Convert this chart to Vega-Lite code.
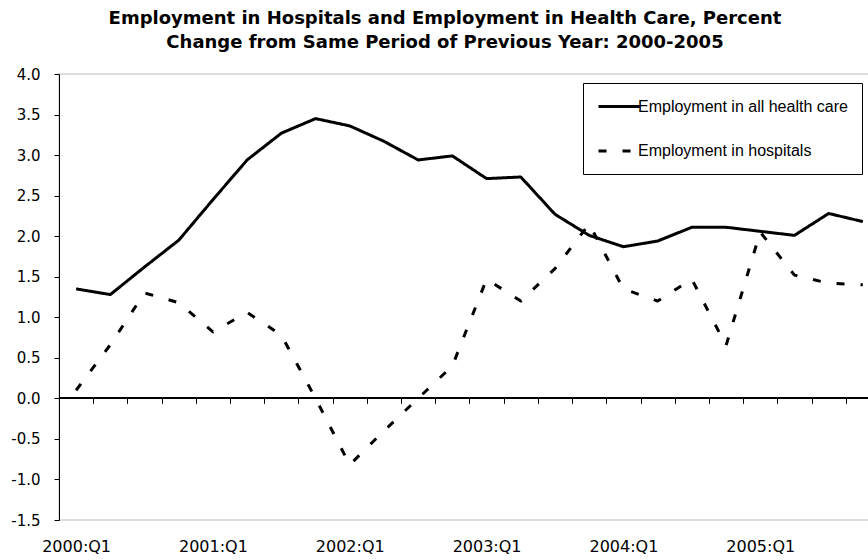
{
  "$schema": "https://vega.github.io/schema/vega-lite/v6.json",
  "width": 810,
  "height": 446,
  "autosize": "none",
  "padding": {"left": 59, "top": 74, "right": 0, "bottom": 40},
  "background": "white",
  "config": {"view": {"stroke": "#d4d4d4", "strokeWidth": 1.5}, "font": "DejaVu Sans"},
  "title": {
    "text": ["Employment in Hospitals and Employment in Health Care, Percent", "Change from Same Period of Previous Year: 2000-2005"],
    "font": "DejaVu Sans",
    "fontSize": 18,
    "fontWeight": "bold",
    "color": "black",
    "lineHeight": 24.5,
    "anchor": "middle",
    "frame": "group",
    "dx": -19,
    "baseline": "alphabetic",
    "offset": 0.7
  },
  "data": {"values": [
    {"i": 0, "quarter": "2000:Q1", "series": "Employment in all health care", "v": 1.35},
    {"i": 1, "quarter": "2000:Q2", "series": "Employment in all health care", "v": 1.28},
    {"i": 2, "quarter": "2000:Q3", "series": "Employment in all health care", "v": 1.62},
    {"i": 3, "quarter": "2000:Q4", "series": "Employment in all health care", "v": 1.95},
    {"i": 4, "quarter": "2001:Q1", "series": "Employment in all health care", "v": 2.45},
    {"i": 5, "quarter": "2001:Q2", "series": "Employment in all health care", "v": 2.94},
    {"i": 6, "quarter": "2001:Q3", "series": "Employment in all health care", "v": 3.27},
    {"i": 7, "quarter": "2001:Q4", "series": "Employment in all health care", "v": 3.45},
    {"i": 8, "quarter": "2002:Q1", "series": "Employment in all health care", "v": 3.36},
    {"i": 9, "quarter": "2002:Q2", "series": "Employment in all health care", "v": 3.17},
    {"i": 10, "quarter": "2002:Q3", "series": "Employment in all health care", "v": 2.94},
    {"i": 11, "quarter": "2002:Q4", "series": "Employment in all health care", "v": 2.99},
    {"i": 12, "quarter": "2003:Q1", "series": "Employment in all health care", "v": 2.71},
    {"i": 13, "quarter": "2003:Q2", "series": "Employment in all health care", "v": 2.73},
    {"i": 14, "quarter": "2003:Q3", "series": "Employment in all health care", "v": 2.27},
    {"i": 15, "quarter": "2003:Q4", "series": "Employment in all health care", "v": 2.01},
    {"i": 16, "quarter": "2004:Q1", "series": "Employment in all health care", "v": 1.87},
    {"i": 17, "quarter": "2004:Q2", "series": "Employment in all health care", "v": 1.94},
    {"i": 18, "quarter": "2004:Q3", "series": "Employment in all health care", "v": 2.11},
    {"i": 19, "quarter": "2004:Q4", "series": "Employment in all health care", "v": 2.11},
    {"i": 20, "quarter": "2005:Q1", "series": "Employment in all health care", "v": 2.06},
    {"i": 21, "quarter": "2005:Q2", "series": "Employment in all health care", "v": 2.01},
    {"i": 22, "quarter": "2005:Q3", "series": "Employment in all health care", "v": 2.28},
    {"i": 23, "quarter": "2005:Q4", "series": "Employment in all health care", "v": 2.18},
    {"i": 0, "quarter": "2000:Q1", "series": "Employment in hospitals", "v": 0.10},
    {"i": 1, "quarter": "2000:Q2", "series": "Employment in hospitals", "v": 0.66},
    {"i": 2, "quarter": "2000:Q3", "series": "Employment in hospitals", "v": 1.30},
    {"i": 3, "quarter": "2000:Q4", "series": "Employment in hospitals", "v": 1.18},
    {"i": 4, "quarter": "2001:Q1", "series": "Employment in hospitals", "v": 0.82},
    {"i": 5, "quarter": "2001:Q2", "series": "Employment in hospitals", "v": 1.06},
    {"i": 6, "quarter": "2001:Q3", "series": "Employment in hospitals", "v": 0.78},
    {"i": 7, "quarter": "2001:Q4", "series": "Employment in hospitals", "v": 0.0},
    {"i": 8, "quarter": "2002:Q1", "series": "Employment in hospitals", "v": -0.82},
    {"i": 9, "quarter": "2002:Q2", "series": "Employment in hospitals", "v": -0.40},
    {"i": 10, "quarter": "2002:Q3", "series": "Employment in hospitals", "v": 0.0},
    {"i": 11, "quarter": "2002:Q4", "series": "Employment in hospitals", "v": 0.40},
    {"i": 12, "quarter": "2003:Q1", "series": "Employment in hospitals", "v": 1.47},
    {"i": 13, "quarter": "2003:Q2", "series": "Employment in hospitals", "v": 1.20},
    {"i": 14, "quarter": "2003:Q3", "series": "Employment in hospitals", "v": 1.60},
    {"i": 15, "quarter": "2003:Q4", "series": "Employment in hospitals", "v": 2.15},
    {"i": 16, "quarter": "2004:Q1", "series": "Employment in hospitals", "v": 1.35},
    {"i": 17, "quarter": "2004:Q2", "series": "Employment in hospitals", "v": 1.20},
    {"i": 18, "quarter": "2004:Q3", "series": "Employment in hospitals", "v": 1.47},
    {"i": 19, "quarter": "2004:Q4", "series": "Employment in hospitals", "v": 0.65},
    {"i": 20, "quarter": "2005:Q1", "series": "Employment in hospitals", "v": 2.05},
    {"i": 21, "quarter": "2005:Q2", "series": "Employment in hospitals", "v": 1.52},
    {"i": 22, "quarter": "2005:Q3", "series": "Employment in hospitals", "v": 1.42},
    {"i": 23, "quarter": "2005:Q4", "series": "Employment in hospitals", "v": 1.40}
  ]},
  "layer": [
    {
      "mark": {"type": "rule", "color": "black", "strokeWidth": 1},
      "encoding": {
        "y": {"datum": 0, "type": "quantitative"},
        "x": {
          "datum": -0.5,
          "type": "quantitative",
          "axis": {
            "orient": "bottom",
            "offset": -121.64,
            "values": [-0.5, 0.5, 1.5, 2.5, 3.5, 4.5, 5.5, 6.5, 7.5, 8.5, 9.5, 10.5, 11.5, 12.5, 13.5, 14.5, 15.5, 16.5, 17.5, 18.5, 19.5, 20.5, 21.5, 22.5],
            "labels": false,
            "domain": false,
            "grid": false,
            "ticks": true,
            "tickSize": 5,
            "tickColor": "black",
            "tickWidth": 1,
            "title": null
          }
        },
        "x2": {"datum": 23.18}
      }
    },
    {
      "mark": {"type": "line", "color": "black", "strokeWidth": 3, "strokeJoin": "round"},
      "encoding": {
        "x": {
          "field": "i",
          "type": "quantitative",
          "scale": {"domain": [-0.5, 23.18], "nice": false, "zero": false},
          "axis": {
            "orient": "bottom",
            "values": [0, 4, 8, 12, 16, 20],
            "labelExpr": "(2000 + datum.value / 4) + ':Q1'",
            "ticks": false,
            "domain": false,
            "grid": false,
            "labelFont": "DejaVu Sans",
            "labelFontSize": 16,
            "labelColor": "black",
            "labelPadding": 18,
            "title": null
          }
        },
        "y": {
          "field": "v",
          "type": "quantitative",
          "scale": {"domain": [-1.5, 4], "nice": false, "zero": false},
          "axis": {
            "values": [-1.5, -1, -0.5, 0, 0.5, 1, 1.5, 2, 2.5, 3, 3.5, 4],
            "labelExpr": "replace(format(datum.value, '.1f'), '\u2212', '-')",
            "grid": false,
            "domainColor": "black",
            "domainWidth": 1,
            "tickColor": "black",
            "tickSize": 5,
            "labelFont": "DejaVu Sans",
            "labelFontSize": 15,
            "labelColor": "black",
            "labelPadding": 14,
            "title": null
          }
        },
        "strokeDash": {
          "field": "series",
          "type": "nominal",
          "scale": {"domain": ["Employment in all health care", "Employment in hospitals"], "range": [[1, 0], [8, 16]]},
          "legend": {
            "orient": "none",
            "legendX": 524,
            "legendY": 9,
            "title": null,
            "strokeColor": "black",
            "fillColor": "white",
            "padding": 14,
            "rowPadding": 26.6,
            "symbolType": "M-1,0H4.2",
            "symbolSize": 256,
            "symbolStrokeWidth": 3,
            "symbolStrokeColor": "black",
            "labelFont": "Liberation Sans",
            "labelFontSize": 16,
            "labelColor": "black",
            "labelOffset": 22,
            "labelLimit": 500,
            "cornerRadius": 0
          }
        }
      }
    }
  ],
  "resolve": {"axis": {"x": "independent"}}
}
